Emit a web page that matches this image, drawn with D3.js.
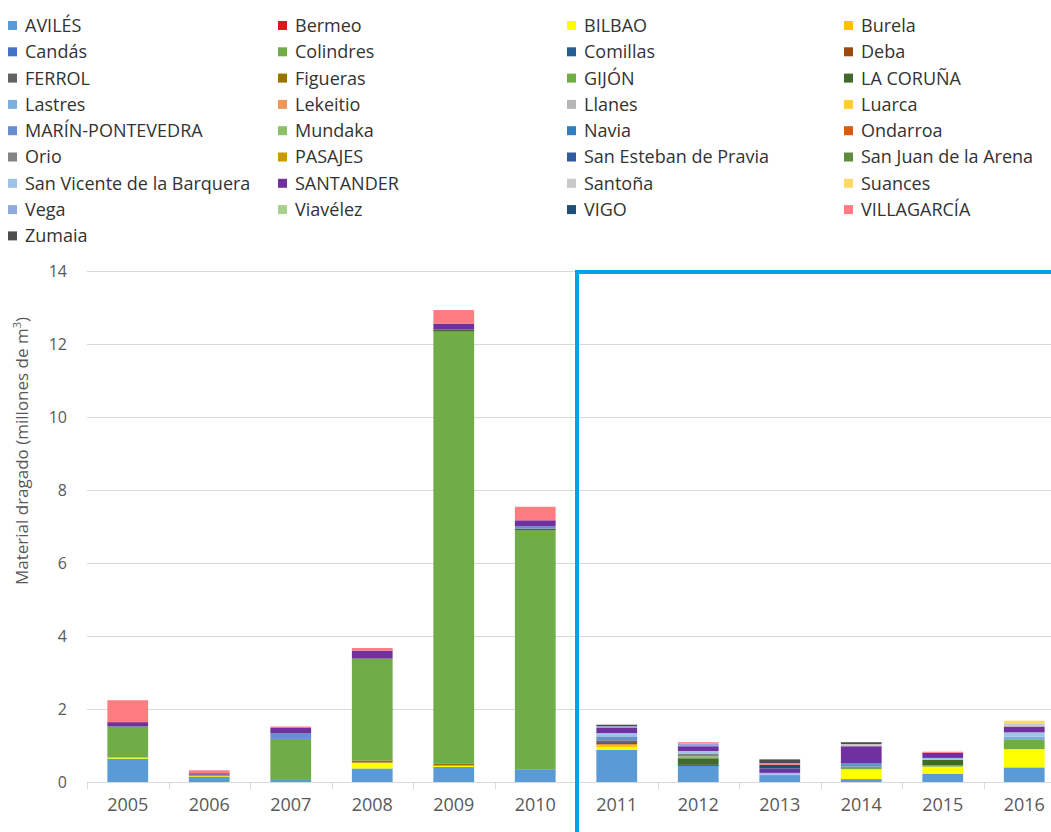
<!DOCTYPE html>
<html>
<head>
<meta charset="utf-8">
<script src="https://cdn.jsdelivr.net/npm/d3@7"></script>
<style>
  html, body { margin: 0; padding: 0; background: #fff; }
  svg { display: block; }
  text { font-family: "Open Sans", sans-serif; }
</style>
</head>
<body>
<svg id="chart" width="1051" height="832"></svg>
<script>
// ---------- DATA ----------
const years = ["2005","2006","2007","2008","2009","2010","2011","2012","2013","2014","2015","2016"];
const yTicks = [0, 2, 4, 6, 8, 10, 12, 14];

const ports = ["AVILÉS","Bermeo","BILBAO","Burela","Candás","Colindres","Comillas","Deba",
  "FERROL","Figueras","GIJÓN","LA CORUÑA","Lastres","Lekeitio","Llanes","Luarca",
  "MARÍN-PONTEVEDRA","Mundaka","Navia","Ondarroa","Orio","PASAJES","San Esteban de Pravia",
  "San Juan de la Arena","San Vicente de la Barquera","SANTANDER","Santoña","Suances",
  "Vega","Viavélez","VIGO","VILLAGARCÍA","Zumaia"];

const portColors = ["#5B9BD5","#E8141B","#FFFF00","#FFC000","#4472C4","#70AD47","#255E91","#9E480E",
  "#636363","#997300","#70AD47","#43682B","#7CAFDD","#F1975A","#B7B7B7","#FFCD33",
  "#698ED0","#8CC168","#327DC2","#D26012","#848484","#CC9A06","#335AA1",
  "#5E8B3C","#9DC3E6","#7030A0","#C9C9C9","#FFD966",
  "#8FAADC","#A9D18E","#1F4E79","#FF7C80","#4D4D4D"];

//                    2005 2006 2007 2008 2009  2010 2011 2012 2013 2014 2015 2016
const sAviles     = [0.64,0.14,0.08,0.37,0.41, 0.35,0.88,0.44,0.19,0.08,0.22,0.40];
const sBermeo     = [0,   0,   0,   0,   0,    0,   0,   0.03,0,   0,   0,   0   ];
const sBilbao     = [0.03,0.02,0,   0.16,0.04, 0,   0.08,0,   0,   0.27,0.20,0.50];
const sBurela     = [0,   0,   0,   0,   0,    0,   0.07,0,   0,   0,   0,   0   ];
const sCandas     = [0,   0,   0,   0,   0,    0,   0,   0,   0,   0,   0,   0   ];
const sColindres  = [0,   0,   0,   0,   0,    0,   0,   0,   0,   0,   0,   0   ];
const sComillas   = [0,   0,   0,   0,   0,    0,   0,   0,   0,   0,   0,   0   ];
const sDeba       = [0,   0.02,0,   0,   0,    0,   0.04,0,   0,   0,   0,   0   ];
const sFerrol     = [0,   0,   0,   0,   0,    0,   0.07,0,   0,   0,   0,   0   ];
const sFigueras   = [0,   0,   0,   0.06,0.06, 0,   0,   0,   0,   0,   0,   0   ];
const sGijon      = [0.85,0.02,1.10,2.79,11.83,6.54,0,   0,   0,   0.07,0.04,0.25];
const sCoruna     = [0,   0,   0,   0,   0.06, 0.05,0,   0.18,0,   0,   0.15,0   ];
const sLastres    = [0,   0,   0,   0,   0,    0,   0,   0,   0,   0,   0,   0.09];
const sLekeitio   = [0,   0,   0,   0,   0,    0,   0,   0,   0,   0,   0,   0   ];
const sLlanes     = [0,   0,   0,   0,   0,    0,   0,   0,   0,   0,   0,   0   ];
const sLuarca     = [0,   0,   0,   0,   0,    0,   0,   0,   0,   0,   0,   0   ];
const sMarin      = [0,   0,   0.16,0,   0,    0.07,0.11,0,   0,   0.10,0,   0   ];
const sMundaka    = [0,   0,   0,   0,   0,    0,   0,   0.05,0,   0,   0,   0   ];
const sNavia      = [0,   0,   0,   0,   0,    0,   0,   0,   0,   0,   0,   0   ];
const sOndarroa   = [0,   0,   0,   0,   0,    0,   0,   0,   0,   0,   0,   0   ];
const sOrio       = [0,   0,   0,   0,   0,    0,   0,   0.08,0,   0,   0,   0   ];
const sPasajes    = [0,   0,   0,   0,   0,    0,   0,   0,   0,   0,   0,   0   ];
const sSanEsteban = [0,   0,   0,   0,   0,    0,   0,   0,   0,   0,   0,   0   ];
const sSanJuan    = [0,   0,   0,   0,   0,    0,   0,   0,   0,   0,   0,   0   ];
const sSanVicente = [0,   0,   0,   0,   0,    0,   0.09,0.07,0.06,0,   0.05,0.12];
const sSantander  = [0.12,0.04,0.14,0.22,0.16, 0.16,0.14,0.13,0.12,0.46,0.14,0.16];
const sSantona    = [0,   0,   0,   0,   0,    0,   0,   0,   0,   0.06,0,   0.09];
const sSuances    = [0,   0,   0,   0,   0,    0,   0,   0,   0,   0,   0,   0.07];
const sVega       = [0,   0,   0,   0,   0,    0,   0.05,0.07,0,   0,   0,   0   ];
const sViavelez   = [0,   0,   0,   0,   0,    0,   0,   0,   0,   0,   0,   0   ];
const sVigo       = [0,   0,   0,   0,   0,    0,   0,   0,   0.10,0,   0,   0   ];
const sVillagarcia= [0.60,0.08,0.04,0.07,0.37, 0.37,0,   0.04,0.05,0,   0.03,0   ];
const sZumaia     = [0,   0,   0,   0,   0,    0,   0.04,0,   0.10,0.05,0,   0   ];

const seriesValues = [sAviles,sBermeo,sBilbao,sBurela,sCandas,sColindres,sComillas,sDeba,
  sFerrol,sFigueras,sGijon,sCoruna,sLastres,sLekeitio,sLlanes,sLuarca,
  sMarin,sMundaka,sNavia,sOndarroa,sOrio,sPasajes,sSanEsteban,
  sSanJuan,sSanVicente,sSantander,sSantona,sSuances,
  sVega,sViavelez,sVigo,sVillagarcia,sZumaia];

// table built from the arrays
const table = years.map((yr, i) => {
  const row = { year: yr };
  ports.forEach((p, j) => { row[p] = seriesValues[j][i]; });
  return row;
});

// ---------- LAYOUT ----------
const svg = d3.select("#chart");
const plotLeft = 87, plotRight = 1065, plotTop = 271, plotBottom = 782;

const x = d3.scaleBand().domain(years).range([plotLeft, plotRight]).paddingInner(0.5).paddingOuter(0.25);
const y = d3.scaleLinear().domain([0, 14]).range([plotBottom, plotTop]);
const color = d3.scaleOrdinal().domain(ports).range(portColors);

// gridlines
svg.append("g").selectAll("line").data(yTicks.filter(d => d > 0)).join("line")
  .attr("x1", plotLeft).attr("x2", 1051)
  .attr("y1", d => Math.round(y(d)) + 0.5).attr("y2", d => Math.round(y(d)) + 0.5)
  .attr("stroke", "#d9d9d9").attr("stroke-width", 1);

// y axis labels
const yAxis = d3.axisLeft(y).tickValues(yTicks).tickSize(0).tickPadding(0);
const gy = svg.append("g").attr("transform", "translate(67,0)").call(yAxis);
gy.select(".domain").remove();
gy.selectAll("text").attr("fill", "#595959").style("font-size", "16px").style("font-family", "Open Sans, sans-serif");

// bars
const stack = d3.stack().keys(ports);
const layers = stack(table);
svg.append("g").selectAll("g").data(layers).join("g")
  .attr("fill", d => color(d.key))
  .selectAll("rect").data(d => d).join("rect")
  .attr("x", d => x(d.data.year))
  .attr("width", x.bandwidth())
  .attr("y", d => y(d[1]))
  .attr("height", d => Math.max(0, y(d[0]) - y(d[1])));

// x axis baseline
svg.append("line").attr("x1", plotLeft).attr("x2", 1051)
  .attr("y1", plotBottom + 0.5).attr("y2", plotBottom + 0.5)
  .attr("stroke", "#d9d9d9").attr("stroke-width", 1);

// category boundary ticks
const step = x.step();
const boundaries = d3.range(years.length + 1).map(i => plotLeft + i * step);
svg.append("g").selectAll("line").data(boundaries.filter(b => b <= 1051)).join("line")
  .attr("x1", d => Math.round(d) + 0.5).attr("x2", d => Math.round(d) + 0.5)
  .attr("y1", plotBottom).attr("y2", plotBottom + 7)
  .attr("stroke", "#d9d9d9").attr("stroke-width", 1);

// x axis labels
const xAxis = d3.axisBottom(x).tickSize(0).tickPadding(0);
const gx = svg.append("g").attr("transform", `translate(0,${plotBottom + 19})`).call(xAxis);
gx.select(".domain").remove();
gx.selectAll("text").attr("fill", "#595959").style("font-size", "18px")
  .style("font-family", "Open Sans, sans-serif").attr("dy", "0.55em");

// y axis title
const title = svg.append("text")
  .attr("transform", "translate(28,451) rotate(-90)")
  .attr("text-anchor", "middle")
  .attr("fill", "#595959")
  .style("font-size", "17px");
title.append("tspan").text("Material dragado (millones de m");
title.append("tspan").text("3").attr("baseline-shift", "super").style("font-size", "11px");
title.append("tspan").text(")");

// legend
const colX = [8, 278, 567, 844];
const legend = svg.append("g").selectAll("g").data(ports).join("g")
  .attr("transform", (d, i) => `translate(${colX[i % 4]},${25.5 + Math.floor(i / 4) * 26.3})`);
legend.append("rect").attr("x", 0).attr("y", -4.5).attr("width", 9).attr("height", 9)
  .attr("fill", d => color(d));
legend.append("text").attr("x", 17).attr("dy", "0.36em")
  .attr("fill", "#333333").style("font-size", "18px").text(d => d);

// highlight frame (2011-2016)
const frameLeft = (x("2010") + x.bandwidth() + x("2011")) / 2 + 1;
svg.append("rect")
  .attr("x", frameLeft).attr("y", y(14) + 1)
  .attr("width", 1060 - frameLeft).attr("height", 900)
  .attr("fill", "none").attr("stroke", "#00A2E8").attr("stroke-width", 4);
</script>
</body>
</html>
